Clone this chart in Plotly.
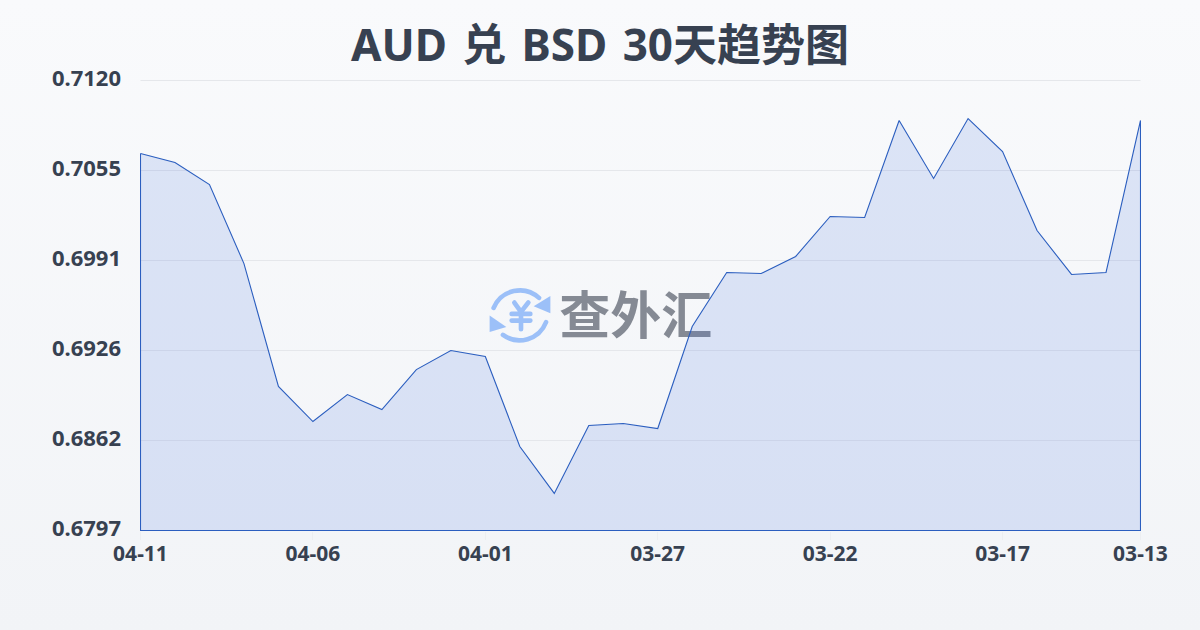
import urllib.parse
import plotly.graph_objects as go

# Chart data
dates = ['04-11', '04-10', '04-09', '04-08', '04-07', '04-06', '04-05', '04-04', '04-03', '04-02',
         '04-01', '03-31', '03-30', '03-29', '03-28', '03-27', '03-26', '03-25', '03-24', '03-23',
         '03-22', '03-21', '03-20', '03-19', '03-18', '03-17', '03-16', '03-15', '03-14', '03-13']
rates = [0.70676, 0.70611, 0.70453, 0.69886, 0.69004, 0.68752, 0.68946, 0.68838, 0.69125, 0.69262,
         0.69219, 0.68573, 0.68236, 0.68724, 0.68738, 0.68702, 0.69434, 0.69822, 0.69815, 0.69937,
         0.70224, 0.70217, 0.70913, 0.70497, 0.70927, 0.70690, 0.70123, 0.69808, 0.69822, 0.70913]
y_labels = ['0.6797', '0.6862', '0.6926', '0.6991', '0.7055', '0.7120']
x_labels = ['04-11', '04-06', '04-01', '03-27', '03-22', '03-17', '03-13']

y_min = float(y_labels[0])
y_max = float(y_labels[-1])
y_ticks = [y_min + (y_max - y_min) * i / 5 for i in range(5)] + [y_max]
x_pos = list(range(len(dates)))
x_ticks = [dates.index(d) for d in x_labels]

# half a pixel of padding on each axis keeps the 1px outline sharp
x_pad = 0.5 * (len(dates) - 1) / 1000
y_pad = 0.5 * (y_max - y_min) / 450

# Logo next to the watermark text
logo_svg = """<svg xmlns='http://www.w3.org/2000/svg' viewBox='25 10 190 190'>
<g fill='none' stroke='#9cc0f8' stroke-linecap='round' stroke-linejoin='round'>
<path stroke-width='14' d='M40 82 A85 85 0 0 1 176 52'/>
<path stroke-width='14' d='M197 125 A85 85 0 0 1 68 163'/>
<path stroke-width='14' d='M102 66 L122 94 L144 66 M122 94 L122 146 M94 100 L150 100 M94 120 L150 120'/>
</g>
<polygon fill='#9cc0f8' points='210,46 210,98 160,77'/>
<polygon fill='#9cc0f8' points='28,105 28,154 78,139'/>
</svg>"""
logo_src = 'data:image/svg+xml,' + urllib.parse.quote(logo_svg)

# The spaces in the title are wider than the Noto ones
gap = '<span style="font-family:DejaVu Sans"> </span>'
title_text = '<b>AUD' + gap + '兑' + gap + 'BSD' + gap + '30天趋势图</b>'

fig = go.Figure()

# Watermark text goes first so the area is painted over it
fig.add_trace(go.Scatter(
    x=[14.36], y=[0.69472], mode='text', text=['查外汇'], hoverinfo='skip',
    textposition='middle center',
    textfont=dict(family='Noto Sans CJK SC', size=51, color='#858a94', weight='bold'),
    showlegend=False,
))

# Area outline is closed down to the axis, as in the original
fig.add_trace(go.Scatter(
    x=x_pos + [x_pos[-1], x_pos[0], x_pos[0]],
    y=rates + [y_min, y_min, rates[0]],
    mode='lines',
    line=dict(color='#2b5ebf', width=1.1),
    fill='toself',
    fillcolor='rgba(59,110,220,0.15)',
    hoverinfo='skip',
    showlegend=False,
    cliponaxis=False,
))

fig.update_layout(
    width=1200,
    height=630,
    margin=dict(l=140, r=59, t=80, b=99, autoexpand=False),
    paper_bgcolor='rgba(0,0,0,0)',
    plot_bgcolor='rgba(0,0,0,0)',
    title=dict(
        text=title_text,
        x=0.5, xanchor='center', y=0.928, yanchor='middle',
        font=dict(family='Noto Sans, Noto Sans CJK SC', size=44, color='#374151'),
    ),
    images=[dict(
        source=logo_src, xref='paper', yref='paper', layer='below',
        x=0.3483, y=0.548, sizex=0.0633, sizey=0.1407, xanchor='left', yanchor='top',
        sizing='stretch',
    )],
    # plotly drops the gridline sitting on the axis end, so the top one is a shape
    shapes=[dict(
        type='line', xref='x', yref='y', x0=x_pos[0], x1=x_pos[-1], y0=y_max, y1=y_max,
        line=dict(color='#e5e7eb', width=1), layer='below',
    )],
    xaxis=dict(
        range=[x_pos[0] - x_pad, x_pos[-1] + x_pad],
        tickmode='array', tickvals=x_ticks, ticktext=x_labels,
        showgrid=False, zeroline=False, showline=False,
        ticks='outside', ticklen=8, tickcolor='#eceef1', tickwidth=1,
        ticklabelstandoff=-4,
        tickfont=dict(family='Noto Sans', size=21, color='#374151', weight='bold'),
    ),
    yaxis=dict(
        range=[y_min - y_pad, y_max + y_pad],
        tickmode='array', tickvals=y_ticks, ticktext=y_labels,
        showgrid=True, gridcolor='#e5e7eb', gridwidth=1,
        zeroline=False, showline=False, ticks='',
        ticklabelstandoff=18, ticklabelshift=-2,
        tickfont=dict(family='Noto Sans', size=22, color='#374151', weight='bold'),
    ),
)

# Page background is a soft vertical gradient
page_css = ("document.documentElement.style.background='linear-gradient(180deg,#f9fafc 0%,#f2f4f7 100%)';"
            "document.body.style.background='transparent';document.body.style.margin='0';")

fig.write_html("out.html", post_script=page_css, config={'displayModeBar': False})
